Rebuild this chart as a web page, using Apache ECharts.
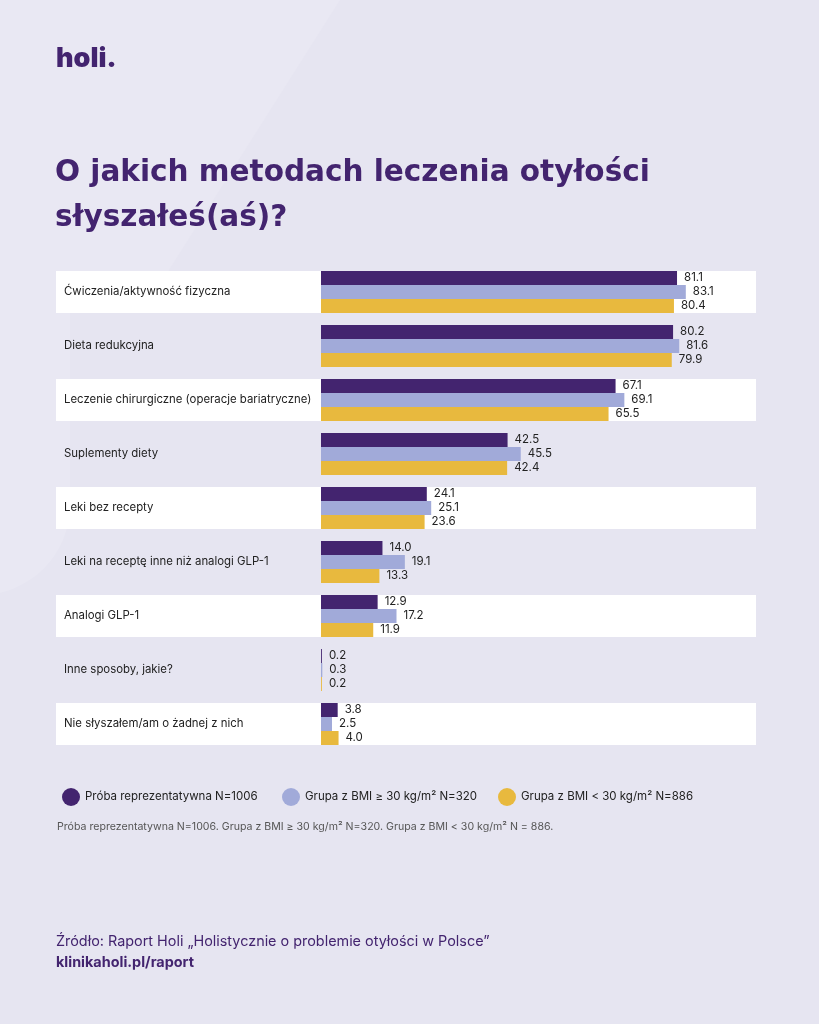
<!DOCTYPE html>
<html><head><meta charset="utf-8">
<script src="https://cdn.jsdelivr.net/npm/echarts@6/dist/echarts.min.js"></script>
<style>html,body{margin:0;padding:0;background:#e6e5f1;}#c{width:819px;height:1024px;}</style>
</head><body><div id="c"></div>
<script>
const categories = [
  'Ćwiczenia/aktywność fizyczna',
  'Dieta redukcyjna',
  'Leczenie chirurgiczne (operacje bariatryczne)',
  'Suplementy diety',
  'Leki bez recepty',
  'Leki na receptę inne niż analogi GLP-1',
  'Analogi GLP-1',
  'Inne sposoby, jakie?',
  'Nie słyszałem/am o żadnej z nich'
];
const seriesNames = [
  'Próba reprezentatywna N=1006',
  'Grupa z BMI ≥ 30 kg/m² N=320',
  'Grupa z BMI < 30 kg/m² N=886'
];
const proba = [81.1, 80.2, 67.1, 42.5, 24.1, 14.0, 12.9, 0.2, 3.8];
const bmiHigh = [83.1, 81.6, 69.1, 45.5, 25.1, 19.1, 17.2, 0.3, 2.5];
const bmiLow = [80.4, 79.9, 65.5, 42.4, 23.6, 13.3, 11.9, 0.2, 4.0];
const bandRows = [1, 0, 1, 0, 1, 0, 1, 0, 1];

const PURPLE = '#43246f', LAV = '#a1aad9', YEL = '#e8b93e';
const FONT = 'Inter, "Noto Sans", sans-serif';
const chart = echarts.init(document.getElementById('c'));
const valueSeries = [proba, bmiHigh, bmiLow].map((d, i) => ({
  name: seriesNames[i], type: 'bar', xAxisIndex: 1, yAxisIndex: 1,
  data: d, barWidth: 14, barGap: '0%', z: 3,
  itemStyle: {color: [PURPLE, LAV, YEL][i]},
  label: {show: true, position: 'right', distance: 7, fontSize: 11.5, color: '#222', fontFamily: FONT,
    formatter: p => p.value.toFixed(1)}
}));
const legends = seriesNames.map((n, i) => ({
  data: [n], left: [57, 277, 493][i], top: 783, icon: 'circle', itemWidth: 18, itemHeight: 18,
  textStyle: {fontSize: 11.5, color: '#222', fontFamily: FONT},
  selectedMode: false
}));
chart.setOption({
  backgroundColor: '#e6e5f1',
  animation: false,
  legend: legends,
  grid: [
    {left: 56, width: 700, top: 265, height: 486},
    {left: 321, width: 439, top: 265, height: 486}
  ],
  xAxis: [
    {gridIndex: 0, type: 'value', min: 0, max: 1, show: false},
    {gridIndex: 1, type: 'value', min: 0, max: 100, show: false}
  ],
  yAxis: [
    {gridIndex: 0, type: 'category', data: categories, inverse: true, show: false},
    {gridIndex: 1, type: 'category', data: categories, inverse: true, z: 10,
      axisLine: {show: false}, axisTick: {show: false},
      axisLabel: {align: 'left', margin: 257, fontSize: 11.4, color: '#222', fontFamily: FONT}}
  ],
  graphic: [
    {type: 'rect', shape: {x: -600, y: -200, width: 670, height: 795, r: 90}, style: {fill: '#e9e8f3'}, z: -10, silent: true},
    {type: 'polygon', shape: {points: [[0, 0], [340, 0], [150, 300], [0, 300]]}, style: {fill: '#e9e8f3'}, z: -10, silent: true},
    {type: 'text', left: 56, top: 45, style: {text: 'holi.', fontSize: 27, fontWeight: 900, fill: PURPLE, fontFamily: 'Inter, sans-serif'}},
    {type: 'text', left: 55, top: 151, style: {text: 'O jakich metodach leczenia otyłości\nsłyszałeś(aś)?', fontSize: 29.5, lineHeight: 45, fontWeight: 'bold', fill: PURPLE, fontFamily: '"DejaVu Sans", sans-serif'}},
    {type: 'text', left: 57, top: 821, style: {text: 'Próba reprezentatywna N=1006. Grupa z BMI ≥ 30 kg/m² N=320. Grupa z BMI < 30 kg/m² N = 886.', fontSize: 10.6, fill: '#555', fontFamily: FONT}},
    {type: 'text', left: 56, top: 935, style: {text: 'Źródło: Raport Holi „Holistycznie o problemie otyłości w Polsce”', fontSize: 14.4, fill: PURPLE, fontFamily: FONT}},
    {type: 'text', left: 56, top: 956, style: {text: 'klinikaholi.pl/raport', fontSize: 14.4, fontWeight: 'bold', fill: PURPLE, fontFamily: FONT}}
  ],
  series: [
    {type: 'bar', xAxisIndex: 0, yAxisIndex: 0, barWidth: 42, silent: true, z: 1,
      data: bandRows.map(v => ({value: 1, itemStyle: {color: v ? '#ffffff' : 'rgba(0,0,0,0)'}}))}
  ].concat(valueSeries)
});
</script></body></html>
